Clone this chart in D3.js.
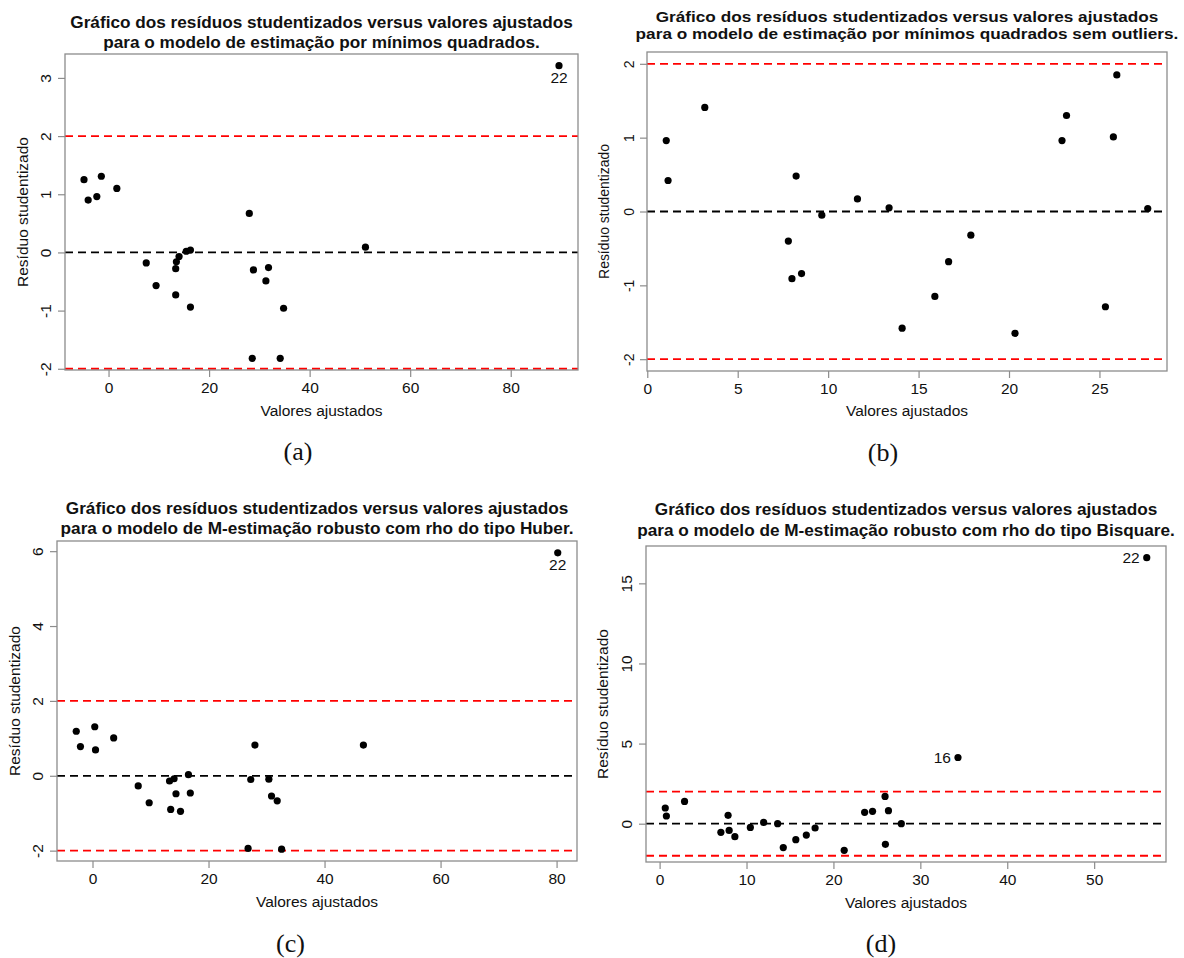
<!DOCTYPE html>
<html>
<head>
<meta charset="utf-8">
<script src="https://cdn.jsdelivr.net/npm/d3@7"></script>
<style>
  body { margin: 0; background: #fff; }
  text { font-family: "Liberation Sans", Arial, sans-serif; fill: #111; }
</style>
</head>
<body>
<svg id="fig" width="1184" height="958"></svg>
<script>
// (a) minimos quadrados, 23 obs (obs 22 labelled)
var fittedA = [-4.88, -4.05, -2.33, -1.43, 1.65, 7.5, 9.46, 13.36, 13.36, 13.5, 14.03, 15.46,
  16.29, 16.29, 28.0, 28.59, 28.82, 31.3, 31.82, 34.15, 34.82, 89.6, 51.1];
var residA = [1.25, 0.90, 0.96, 1.31, 1.10, -0.18, -0.57, -0.28, -0.73, -0.16, -0.07, 0.02,
  0.04, -0.94, 0.67, -1.82, -0.30, -0.49, -0.26, -1.82, -0.96, 3.21, 0.09];
var xTicksA = [0, 20, 40, 60, 80];
var yTicksA = [-2, -1, 0, 1, 2, 3];
var labelsA = [22];

// (b) minimos quadrados sem outliers, 21 obs
var fittedB = [1.05, 1.15, 3.18, 7.80, 8.0, 8.23, 8.53, 9.65, 11.62, 13.37, 14.09, 15.9,
  16.66, 17.89, 20.33, 22.93, 23.18, 25.33, 25.77, 25.96, 27.67];
var residB = [0.96, 0.42, 1.41, -0.40, -0.91, 0.48, -0.84, -0.05, 0.17, 0.05, -1.58, -1.15,
  -0.68, -0.32, -1.65, 0.96, 1.30, -1.29, 1.01, 1.85, 0.04];
var xTicksB = [0, 5, 10, 15, 20, 25];
var yTicksB = [-2, -1, 0, 1, 2];
var labelsB = [];

// (c) Huber
var fittedC = [-2.80, -2.08, 0.39, 0.52, 3.65, 7.88, 9.77, 13.28, 13.48, 14.06, 14.39, 15.17,
  16.54, 16.86, 26.82, 27.28, 28.0, 30.4, 30.86, 31.84, 32.6, 80.2, 46.7];
var residC = [1.19, 0.78, 1.31, 0.69, 1.01, -0.27, -0.72, -0.14, -0.90, -0.08, -0.48, -0.95,
  0.03, -0.46, -1.94, -0.10, 0.82, -0.09, -0.54, -0.67, -1.96, 5.955, 0.82];
var xTicksC = [0, 20, 40, 60, 80];
var yTicksC = [-2, 0, 2, 4, 6];
var labelsC = [22];

// (d) Bisquare
var fittedD = [0.65, 0.78, 2.87, 7.05, 7.88, 8.0, 8.66, 10.44, 11.97, 13.58, 14.23, 15.67,
  16.88, 17.89, 21.24, 34.33, 23.59, 24.5, 25.94, 25.98, 26.33, 56.05, 27.81];
var residD = [0.98, 0.48, 1.39, -0.54, 0.52, -0.42, -0.81, -0.23, 0.08, 0.0, -1.49, -1.0,
  -0.71, -0.27, -1.66, 4.13, 0.71, 0.77, 1.70, -1.29, 0.81, 16.6, 0.0];
var xTicksD = [0, 10, 20, 30, 40, 50];
var yTicksD = [0, 5, 10, 15];
var labelsD = [16, 22];

var titleLine1 = "Gráfico dos resíduos studentizados versus valores ajustados";
var xTitle = "Valores ajustados";
var yTitle = "Resíduo studentizado";

var panels = [
  { xs: fittedA, ys: residA, xt: xTicksA, yt: yTicksA, labs: labelsA, labPos: "below",
    title2: "para o modelo de estimação por mínimos quadrados.", caption: "(a)",
    box: [65, 54, 578, 370], sy: 1, titleY: [21.5, 41.5], yTickX: 46, xTickY: 388,
    xTitleY: 410.5, yTitleX: 22.5, cap: [298, 451] },
  { xs: fittedB, ys: residB, xt: xTicksB, yt: yTicksB, labs: labelsB, ylim: [-2, 2],
    title2: "para o modelo de estimação por mínimos quadrados sem outliers.", caption: "(b)",
    box: [647, 52, 1167, 371], sy: 0.9, titleY: [16.7, 34], yTickX: 629, xTickY: 389,
    xTitleY: 411.5, yTitleX: 604, cap: [883, 452] },
  { xs: fittedC, ys: residC, xt: xTicksC, yt: yTicksC, labs: labelsC, labPos: "below",
    title2: "para o modelo de M-estimação robusto com rho do tipo Huber.", caption: "(c)",
    box: [57, 541, 577, 861], sy: 1, titleY: [508.3, 527.7], yTickX: 37.5, xTickY: 878.3,
    xTitleY: 901.7, yTitleX: 14.5, cap: [290.5, 943] },
  { xs: fittedD, ys: residD, xt: xTicksD, yt: yTicksD, labs: labelsD, labPos: "left",
    title2: "para o modelo de M-estimação robusto com rho do tipo Bisquare.", caption: "(d)",
    box: [646, 546, 1166, 862], sy: 1, titleY: [509.3, 530], yTickX: 627, xTickY: 880,
    xTitleY: 902.3, yTitleX: 603, cap: [881, 943] }
];

var svg = d3.select("#fig");
svg.append("rect").attr("width", 1184).attr("height", 958).attr("fill", "#fff");

// R style limits: range extended by 4% on each side
function padded(vals, lim) {
  var e = lim || d3.extent(vals);
  var d = (e[1] - e[0]) * 0.04;
  return [e[0] - d, e[1] + d];
}

function txt(g, x, y, s, o) {
  return g.append("text")
    .attr("transform", "translate(" + x + "," + y + ") scale(1," + (o.sy || 1) + ")" + (o.rot ? " rotate(" + o.rot + ")" : ""))
    .attr("text-anchor", o.anchor || "middle")
    .attr("dy", "0.35em")
    .style("font-size", o.size + "px")
    .style("font-weight", o.bold ? "bold" : null)
    .style("font-family", o.family || null)
    .text(s);
}

panels.forEach(function(p) {
  var g = svg.append("g");
  var b = p.box;
  var x = d3.scaleLinear().domain(padded(p.xs, p.xlim)).range([b[0], b[2]]);
  var y = d3.scaleLinear().domain(padded(p.ys, p.ylim)).range([b[3], b[1]]);
  var fs = 15.5;

  // reference lines
  [-2, 2].forEach(function(v) {
    g.append("line").attr("x1", b[0]).attr("x2", b[2]).attr("y1", y(v)).attr("y2", y(v))
      .attr("stroke", "#ff0000").attr("stroke-width", 1.8).attr("stroke-dasharray", "8,5");
  });
  g.append("line").attr("x1", b[0]).attr("x2", b[2]).attr("y1", y(0)).attr("y2", y(0))
    .attr("stroke", "#000").attr("stroke-width", 1.8).attr("stroke-dasharray", "8,5");

  // axes
  var ax = g.append("g").attr("transform", "translate(0," + b[3] + ")")
    .call(d3.axisBottom(x).tickValues(p.xt).tickSize(7).tickFormat(function(d) { return String(d); }));
  var ay = g.append("g").attr("transform", "translate(" + b[0] + ",0)")
    .call(d3.axisLeft(y).tickValues(p.yt).tickSize(7).tickFormat(function(d) { return String(d); }));
  [ax, ay].forEach(function(a) {
    a.select(".domain").remove();
    a.selectAll("line").attr("stroke", "#8c8c8c").attr("stroke-width", 1.2);
    a.selectAll("text").attr("x", null).attr("y", null).attr("dy", "0.35em")
      .attr("fill", "#111").style("font-size", fs + "px").attr("font-family", null);
  });
  ax.selectAll("text").attr("transform", "translate(0," + (p.xTickY - b[3]) + ") scale(1," + p.sy + ")");
  ay.selectAll("text").attr("text-anchor", "middle")
    .attr("transform", "translate(" + (p.yTickX - b[0]) + ",0) scale(1," + p.sy + ") rotate(-90)");

  // box
  g.append("rect").attr("x", b[0]).attr("y", b[1]).attr("width", b[2] - b[0]).attr("height", b[3] - b[1])
    .attr("fill", "none").attr("stroke", "#8c8c8c").attr("stroke-width", 1.3);

  // points
  g.selectAll("circle").data(p.xs).enter().append("circle")
    .attr("cx", function(d) { return x(d); })
    .attr("cy", function(d, i) { return y(p.ys[i]); })
    .attr("r", 3.6).attr("fill", "#000");

  // observation labels
  p.labs.forEach(function(obs) {
    var px = x(p.xs[obs - 1]), py = y(p.ys[obs - 1]);
    if (p.labPos === "left") txt(g, px - 7, py, String(obs), { size: fs, anchor: "end" });
    else txt(g, px, py + 12, String(obs), { size: fs });
  });

  // titles
  var cx = (b[0] + b[2]) / 2;
  txt(g, cx, p.titleY[0], titleLine1, { size: 17.2, bold: true, sy: p.sy });
  txt(g, cx, p.titleY[1], p.title2, { size: 17.2, bold: true, sy: p.sy });
  txt(g, cx, p.xTitleY, xTitle, { size: fs, sy: p.sy });
  txt(g, p.yTitleX, (b[1] + b[3]) / 2, yTitle, { size: fs, sy: p.sy, rot: -90 });
  txt(g, p.cap[0], p.cap[1], p.caption, { size: 26, family: "'Liberation Serif', serif" });
});
</script>
</body>
</html>
